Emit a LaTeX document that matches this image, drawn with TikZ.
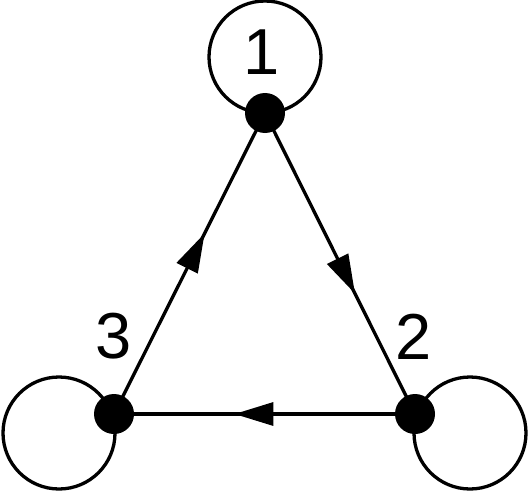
\documentclass[tikz,border=0pt]{standalone}
\usepackage{fontspec}
\setmainfont{Liberation Sans}
\usetikzlibrary{arrows.meta,decorations.markings,backgrounds}
\begin{document}
\begin{tikzpicture}[x=1pt,y=-1pt,
  vertex/.style={circle,fill=black,inner sep=0pt,minimum size=40pt},
  lbl/.style={font=\fontsize{65}{65}\selectfont,inner sep=0pt},
  edge/.style={line width=3.3pt,postaction={decorate},
    decoration={markings,mark=at position 0.6 with {\arrow{Triangle[length=39pt,width=23pt]}}}},
  loopline/.style={line width=3.3pt}]
\useasboundingbox (0,0) rectangle (529,492);
\node[vertex] (v1) at (265,113) {};
\node[vertex] (v2) at (415,414) {};
\node[vertex] (v3) at (114,414) {};
\coordinate (c1) at (265,57);
\coordinate (c2) at (470,433);
\coordinate (c3) at (59,433);
\node[lbl] (l1) at (262,52) {1};
\node[lbl] (l2) at (414,337) {2};
\node[lbl] (l3) at (114,336) {3};
\begin{scope}[on background layer]
\draw[loopline] (c1) circle (56);
\draw[loopline] (c2) circle (56);
\draw[loopline] (c3) circle (56);
\draw[edge] (v1.center) -- (v2.center);
\draw[edge] (v2.center) -- (v3.center);
\draw[edge] (v3.center) -- (v1.center);
\end{scope}
\end{tikzpicture}
\end{document}
